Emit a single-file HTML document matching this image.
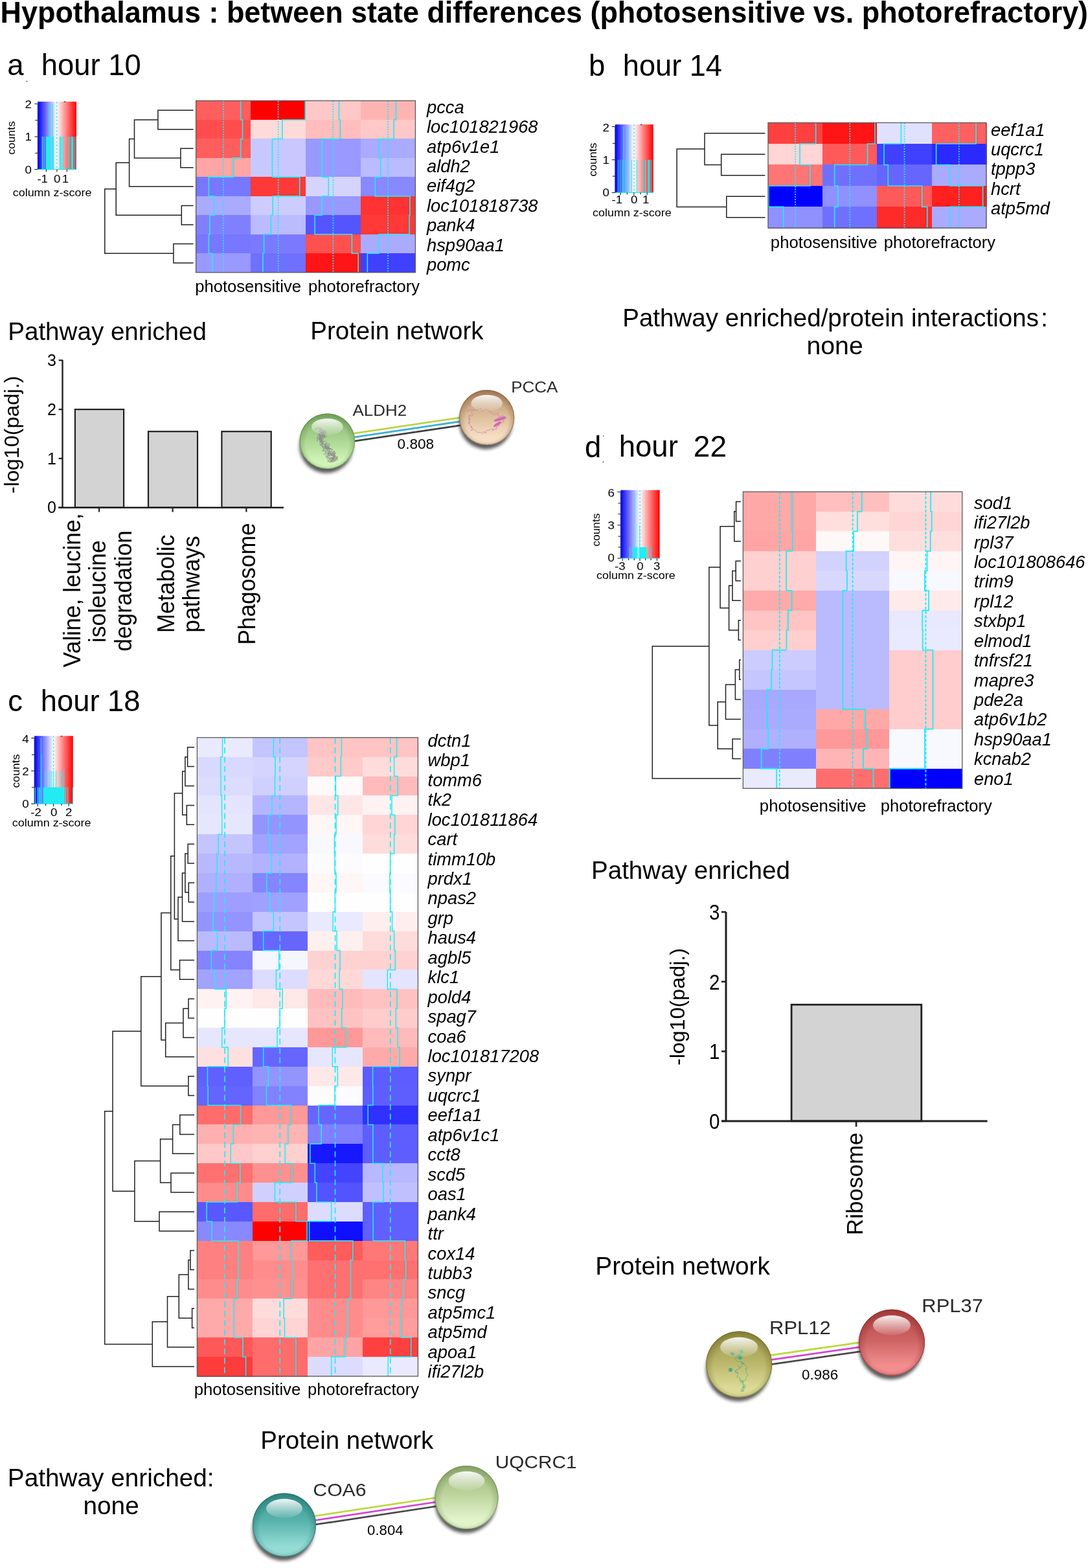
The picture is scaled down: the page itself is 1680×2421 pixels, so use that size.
<!DOCTYPE html>
<html><head><meta charset="utf-8"><title>Hypothalamus : between state differences</title>
<style>
html,body{margin:0;padding:0;background:#fff;}
body{width:1680px;height:2421px;overflow:hidden;}
svg{display:block;font-family:"Liberation Sans", Arial, Helvetica, sans-serif;}
</style></head><body>
<svg width="1680" height="2421" viewBox="0 0 1680 2421">
<defs><linearGradient id="grad_a" x1="0" x2="1" y1="0" y2="0"><stop offset="0" stop-color="#0000ff"/><stop offset="0.49" stop-color="#ffffff"/><stop offset="1" stop-color="#ff0000"/></linearGradient>
<filter id="blur2" x="-30%" y="-30%" width="160%" height="160%"><feGaussianBlur stdDeviation="2.8"/></filter>
<linearGradient id="sh_common" x1="0" x2="0" y1="0" y2="1"><stop offset="0" stop-color="#ffffff" stop-opacity="0.92"/><stop offset="1" stop-color="#ffffff" stop-opacity="0.08"/></linearGradient>
<linearGradient id="sg_aldh2" x1="0" x2="0" y1="0" y2="1"><stop offset="0" stop-color="#86b46e"/><stop offset="0.45" stop-color="#a8d490"/><stop offset="0.85" stop-color="#d0f5b8"/><stop offset="1" stop-color="#d0f5b8"/></linearGradient>
<radialGradient id="sr_aldh2" cx="0.5" cy="0.55" r="0.55"><stop offset="0.7" stop-color="#5c8a44" stop-opacity="0"/><stop offset="1" stop-color="#5c8a44" stop-opacity="0.55"/></radialGradient>
<linearGradient id="sg_pcca" x1="0" x2="0" y1="0" y2="1"><stop offset="0" stop-color="#b48e68"/><stop offset="0.45" stop-color="#dcbc98"/><stop offset="0.85" stop-color="#f6dec4"/><stop offset="1" stop-color="#f6dec4"/></linearGradient>
<radialGradient id="sr_pcca" cx="0.5" cy="0.55" r="0.55"><stop offset="0.7" stop-color="#86603e" stop-opacity="0"/><stop offset="1" stop-color="#86603e" stop-opacity="0.55"/></radialGradient>
<linearGradient id="grad_b" x1="0" x2="1" y1="0" y2="0"><stop offset="0" stop-color="#0000ff"/><stop offset="0.49" stop-color="#ffffff"/><stop offset="1" stop-color="#ff0000"/></linearGradient>
<linearGradient id="grad_d" x1="0" x2="1" y1="0" y2="0"><stop offset="0" stop-color="#0000ff"/><stop offset="0.49" stop-color="#ffffff"/><stop offset="1" stop-color="#ff0000"/></linearGradient>
<linearGradient id="sg_rpl12" x1="0" x2="0" y1="0" y2="1"><stop offset="0" stop-color="#9e9846"/><stop offset="0.45" stop-color="#b8b468"/><stop offset="0.85" stop-color="#dcda96"/><stop offset="1" stop-color="#dcda96"/></linearGradient>
<radialGradient id="sr_rpl12" cx="0.5" cy="0.55" r="0.55"><stop offset="0.7" stop-color="#6a6626" stop-opacity="0"/><stop offset="1" stop-color="#6a6626" stop-opacity="0.55"/></radialGradient>
<linearGradient id="sg_rpl37" x1="0" x2="0" y1="0" y2="1"><stop offset="0" stop-color="#b84646"/><stop offset="0.45" stop-color="#cc6262"/><stop offset="0.85" stop-color="#f28e8e"/><stop offset="1" stop-color="#f28e8e"/></linearGradient>
<radialGradient id="sr_rpl37" cx="0.5" cy="0.55" r="0.55"><stop offset="0.7" stop-color="#8a2a2a" stop-opacity="0"/><stop offset="1" stop-color="#8a2a2a" stop-opacity="0.55"/></radialGradient>
<linearGradient id="grad_c" x1="0" x2="1" y1="0" y2="0"><stop offset="0" stop-color="#0000ff"/><stop offset="0.49" stop-color="#ffffff"/><stop offset="1" stop-color="#ff0000"/></linearGradient>
<linearGradient id="sg_coa6" x1="0" x2="0" y1="0" y2="1"><stop offset="0" stop-color="#3a9690"/><stop offset="0.45" stop-color="#5ab4ae"/><stop offset="0.85" stop-color="#96dcd6"/><stop offset="1" stop-color="#96dcd6"/></linearGradient>
<radialGradient id="sr_coa6" cx="0.5" cy="0.55" r="0.55"><stop offset="0.7" stop-color="#1f6e68" stop-opacity="0"/><stop offset="1" stop-color="#1f6e68" stop-opacity="0.55"/></radialGradient>
<linearGradient id="sg_uqcrc1" x1="0" x2="0" y1="0" y2="1"><stop offset="0" stop-color="#9cb87c"/><stop offset="0.45" stop-color="#bcd49c"/><stop offset="0.85" stop-color="#e2f4cc"/><stop offset="1" stop-color="#e2f4cc"/></linearGradient>
<radialGradient id="sr_uqcrc1" cx="0.5" cy="0.55" r="0.55"><stop offset="0.7" stop-color="#6e8c4e" stop-opacity="0"/><stop offset="1" stop-color="#6e8c4e" stop-opacity="0.55"/></radialGradient></defs>
<rect x="0" y="0" width="1680" height="2421" fill="#ffffff"/>
<text x="0.58" y="34.8" font-size="45.5" font-weight="bold" textLength="1679.48" lengthAdjust="spacingAndGlyphs">Hypothalamus : between state differences (photosensitive vs. photorefractory)</text>
<text x="11.15" y="115.9" font-size="45.5">a</text>
<text x="63.72" y="115.9" font-size="45.5" textLength="153.97" lengthAdjust="spacingAndGlyphs">hour 10</text>
<g shape-rendering="crispEdges"><rect x="302.6" y="155.5" width="85.3" height="30.07" fill="#ff5e5e"/><rect x="387.3" y="155.5" width="85.3" height="30.07" fill="#ff0000"/><rect x="472" y="155.5" width="85.3" height="30.07" fill="#ffc8c8"/><rect x="556.7" y="155.5" width="85.3" height="30.07" fill="#ffb4b4"/><rect x="302.6" y="184.97" width="85.3" height="30.07" fill="#ff4d4d"/><rect x="387.3" y="184.97" width="85.3" height="30.07" fill="#ffdada"/><rect x="472" y="184.97" width="85.3" height="30.07" fill="#ffbdbd"/><rect x="556.7" y="184.97" width="85.3" height="30.07" fill="#ffc8c8"/><rect x="302.6" y="214.43" width="85.3" height="30.07" fill="#ff5e5e"/><rect x="387.3" y="214.43" width="85.3" height="30.07" fill="#c8c8ff"/><rect x="472" y="214.43" width="85.3" height="30.07" fill="#9999ff"/><rect x="556.7" y="214.43" width="85.3" height="30.07" fill="#aaaaff"/><rect x="302.6" y="243.9" width="85.3" height="30.07" fill="#ffa5a5"/><rect x="387.3" y="243.9" width="85.3" height="30.07" fill="#c8c8ff"/><rect x="472" y="243.9" width="85.3" height="30.07" fill="#9999ff"/><rect x="556.7" y="243.9" width="85.3" height="30.07" fill="#bbbbff"/><rect x="302.6" y="273.37" width="85.3" height="30.07" fill="#7777ff"/><rect x="387.3" y="273.37" width="85.3" height="30.07" fill="#ff3838"/><rect x="472" y="273.37" width="85.3" height="30.07" fill="#d4d4ff"/><rect x="556.7" y="273.37" width="85.3" height="30.07" fill="#8888ff"/><rect x="302.6" y="302.83" width="85.3" height="30.07" fill="#aaaaff"/><rect x="387.3" y="302.83" width="85.3" height="30.07" fill="#ccccff"/><rect x="472" y="302.83" width="85.3" height="30.07" fill="#9898ff"/><rect x="556.7" y="302.83" width="85.3" height="30.07" fill="#ff3333"/><rect x="302.6" y="332.3" width="85.3" height="30.07" fill="#8080ff"/><rect x="387.3" y="332.3" width="85.3" height="30.07" fill="#bbbbff"/><rect x="472" y="332.3" width="85.3" height="30.07" fill="#5555ff"/><rect x="556.7" y="332.3" width="85.3" height="30.07" fill="#ff3838"/><rect x="302.6" y="361.77" width="85.3" height="30.07" fill="#7777ff"/><rect x="387.3" y="361.77" width="85.3" height="30.07" fill="#7a7aff"/><rect x="472" y="361.77" width="85.3" height="30.07" fill="#ff5050"/><rect x="556.7" y="361.77" width="85.3" height="30.07" fill="#aaaaff"/><rect x="302.6" y="391.23" width="85.3" height="30.07" fill="#9999ff"/><rect x="387.3" y="391.23" width="85.3" height="30.07" fill="#7070ff"/><rect x="472" y="391.23" width="85.3" height="30.07" fill="#ff1515"/><rect x="556.7" y="391.23" width="85.3" height="30.07" fill="#4040ff"/></g>
<line x1="344.95" y1="156.1" x2="344.95" y2="420.7" stroke="#22ecf2" stroke-width="1.8" stroke-dasharray="1.9 2"/>
<path d="M371.69 155.5V184.97H374.51V214.43H371.69V243.9H359.9V273.37H322.36V302.83H330.83V332.3H323.86V361.77H322.36V391.23H328.01V420.7" stroke="#22ecf2" stroke-width="1.6" fill="none"/>
<line x1="429.65" y1="156.1" x2="429.65" y2="420.7" stroke="#22ecf2" stroke-width="1.8" stroke-dasharray="1.9 2"/>
<path d="M471.2 155.5V184.97H435.79V214.43H420.52V243.9H420.52V273.37H462.7V302.83H421.18V332.3H418.36V361.77H407.56V391.23H405.9V420.7" stroke="#22ecf2" stroke-width="1.6" fill="none"/>
<line x1="514.35" y1="156.1" x2="514.35" y2="420.7" stroke="#22ecf2" stroke-width="1.8" stroke-dasharray="1.9 2"/>
<path d="M523.48 155.5V184.97H525.31V214.43H497.41V243.9H497.41V273.37H507.21V302.83H497.24V332.3H486.12V361.77H543.41V391.23H553.21V420.7" stroke="#22ecf2" stroke-width="1.6" fill="none"/>
<line x1="599.05" y1="156.1" x2="599.05" y2="420.7" stroke="#22ecf2" stroke-width="1.8" stroke-dasharray="1.9 2"/>
<path d="M611.51 155.5V184.97H608.18V214.43H584.93V243.9H587.76V273.37H579.29V302.83H632.93V332.3H632.1V361.77H584.93V391.23H567.33V420.7" stroke="#22ecf2" stroke-width="1.6" fill="none"/>
<rect x="302.6" y="155.5" width="338.8" height="265.2" fill="none" stroke="#5a5a5a" stroke-width="1.3"/>
<path d="M298.6 170.23H243.9V199.7H298.6" stroke="#231f20" stroke-width="1.5" fill="none"/>
<path d="M298.6 229.17H278.9V258.63H298.6" stroke="#231f20" stroke-width="1.5" fill="none"/>
<path d="M243.9 184.97H207.5V243.9H278.9" stroke="#231f20" stroke-width="1.5" fill="none"/>
<path d="M207.5 214.43H199.6V288.1H298.6" stroke="#231f20" stroke-width="1.5" fill="none"/>
<path d="M298.6 317.57H280.3V347.03H298.6" stroke="#231f20" stroke-width="1.5" fill="none"/>
<path d="M199.6 251.27H179.2V332.3H280.3" stroke="#231f20" stroke-width="1.5" fill="none"/>
<path d="M298.6 376.5H267.9V405.97H298.6" stroke="#231f20" stroke-width="1.5" fill="none"/>
<path d="M179.2 291.78H161.8V391.23H267.9" stroke="#231f20" stroke-width="1.5" fill="none"/>
<text x="659" y="174.8" font-size="27.3" font-style="italic">pcca</text>
<text x="659" y="205.2" font-size="27.3" font-style="italic">loc101821968</text>
<text x="659" y="235.6" font-size="27.3" font-style="italic">atp6v1e1</text>
<text x="659" y="266" font-size="27.3" font-style="italic">aldh2</text>
<text x="659" y="296.4" font-size="27.3" font-style="italic">eif4g2</text>
<text x="659" y="326.8" font-size="27.3" font-style="italic">loc101818738</text>
<text x="659" y="357.2" font-size="27.3" font-style="italic">pank4</text>
<text x="659" y="387.6" font-size="27.3" font-style="italic">hsp90aa1</text>
<text x="659" y="418" font-size="27.3" font-style="italic">pomc</text>
<text x="301.24" y="450.9" font-size="25.7" textLength="163.7" lengthAdjust="spacingAndGlyphs">photosensitive</text>
<text x="476.04" y="450.9" font-size="25.7" textLength="172.11" lengthAdjust="spacingAndGlyphs">photorefractory</text>
<rect x="58.3" y="156.9" width="59.7" height="104.7" fill="url(#grad_a)"/>
<line x1="65.5" y1="211" x2="65.5" y2="261.6" stroke="#22ecf2" stroke-width="1.4"/>
<line x1="68" y1="211" x2="68" y2="261.6" stroke="#22ecf2" stroke-width="1"/>
<rect x="71" y="211" width="6.5" height="50.6" fill="#22ecf2"/>
<line x1="76.2" y1="160.3" x2="76.2" y2="261.6" stroke="#22ecf2" stroke-width="1.2"/>
<line x1="81" y1="160.3" x2="81" y2="261.6" stroke="#22ecf2" stroke-width="1.4"/>
<line x1="79" y1="211" x2="79" y2="261.6" stroke="#22ecf2" stroke-width="1"/>
<rect x="80.5" y="211" width="2.5" height="50.6" fill="#22ecf2"/>
<line x1="91.8" y1="211" x2="91.8" y2="261.6" stroke="#22ecf2" stroke-width="1"/>
<rect x="93" y="211" width="2" height="50.6" fill="#22ecf2"/>
<line x1="97.25" y1="211" x2="97.25" y2="261.6" stroke="#22ecf2" stroke-width="1.5"/>
<line x1="105.5" y1="211" x2="105.5" y2="261.6" stroke="#22ecf2" stroke-width="1"/>
<line x1="108" y1="211" x2="108" y2="261.6" stroke="#22ecf2" stroke-width="1"/>
<rect x="110" y="211" width="3" height="50.6" fill="#22ecf2"/>
<line x1="114.5" y1="211" x2="114.5" y2="261.6" stroke="#22ecf2" stroke-width="1"/>
<line x1="117" y1="211" x2="117" y2="261.6" stroke="#22ecf2" stroke-width="1"/>
<line x1="87.8" y1="156.9" x2="87.8" y2="261.6" stroke="#22ecf2" stroke-width="1.3" stroke-dasharray="3 2.5"/>
<line x1="58.3" y1="261.6" x2="118" y2="261.6" stroke="#22ecf2" stroke-width="1.2"/>
<line x1="53.3" y1="160.3" x2="58.3" y2="160.3" stroke="#231f20" stroke-width="1.1"/>
<line x1="54.3" y1="185.7" x2="58.3" y2="185.7" stroke="#231f20" stroke-width="1.1"/>
<line x1="53.3" y1="211" x2="58.3" y2="211" stroke="#231f20" stroke-width="1.1"/>
<line x1="54.3" y1="236.4" x2="58.3" y2="236.4" stroke="#231f20" stroke-width="1.1"/>
<line x1="53.3" y1="261.6" x2="58.3" y2="261.6" stroke="#231f20" stroke-width="1.1"/>
<line x1="58.3" y1="160.3" x2="58.3" y2="261.6" stroke="#231f20" stroke-width="0.8"/>
<text x="0" y="0" font-size="17" transform="translate(48.9 167.45) scale(1.1 1)" text-anchor="end">2</text>
<text x="0" y="0" font-size="17" transform="translate(48.9 216.95) scale(1.1 1)" text-anchor="end">1</text>
<text x="0" y="0" font-size="17" transform="translate(48.9 267.55) scale(1.1 1)" text-anchor="end">0</text>
<line x1="71.4" y1="261.6" x2="71.4" y2="265.6" stroke="#231f20" stroke-width="1.1"/>
<line x1="87.9" y1="261.6" x2="87.9" y2="265.6" stroke="#231f20" stroke-width="1.1"/>
<line x1="103.4" y1="261.6" x2="103.4" y2="265.6" stroke="#231f20" stroke-width="1.1"/>
<text x="0" y="0" font-size="17" transform="translate(65.7 282) scale(1.1 1)" text-anchor="middle">-1</text>
<text x="0" y="0" font-size="17" transform="translate(88.1 282) scale(1.1 1)" text-anchor="middle">0</text>
<text x="0" y="0" font-size="17" transform="translate(101 282) scale(1.1 1)" text-anchor="middle">1</text>
<text x="23.5" y="212.95" font-size="17" text-anchor="middle" textLength="51.7" lengthAdjust="spacingAndGlyphs" transform="rotate(-90 23.5 212.95)">counts</text>
<text x="19.7" y="302.7" font-size="17" textLength="121.7" lengthAdjust="spacingAndGlyphs">column z-score</text>
<text x="12.21" y="525.2" font-size="38.6" textLength="306.67" lengthAdjust="spacingAndGlyphs">Pathway enriched</text>
<text x="479.32" y="523.5" font-size="38.6" textLength="267.2" lengthAdjust="spacingAndGlyphs">Protein network</text>
<line x1="96.5" y1="555.7" x2="96.5" y2="784.8" stroke="#231f20" stroke-width="2.4"/>
<line x1="90.6" y1="783.7" x2="96.5" y2="783.7" stroke="#231f20" stroke-width="2.2"/>
<text x="86.8" y="792.4" font-size="25" text-anchor="end">0</text>
<line x1="90.6" y1="707.9" x2="96.5" y2="707.9" stroke="#231f20" stroke-width="2.2"/>
<text x="86.8" y="716.6" font-size="25" text-anchor="end">1</text>
<line x1="90.6" y1="632.1" x2="96.5" y2="632.1" stroke="#231f20" stroke-width="2.2"/>
<text x="86.8" y="640.8" font-size="25" text-anchor="end">2</text>
<line x1="90.6" y1="556.3" x2="96.5" y2="556.3" stroke="#231f20" stroke-width="2.2"/>
<text x="86.8" y="565" font-size="25" text-anchor="end">3</text>
<rect x="115.9" y="632.1" width="75.2" height="151.6" fill="#d3d3d3" stroke="#231f20" stroke-width="2.2"/>
<rect x="229" y="666.21" width="76" height="117.49" fill="#d3d3d3" stroke="#231f20" stroke-width="2.2"/>
<rect x="342.4" y="666.21" width="76.3" height="117.49" fill="#d3d3d3" stroke="#231f20" stroke-width="2.2"/>
<line x1="90.2" y1="783.7" x2="438" y2="783.7" stroke="#231f20" stroke-width="2.4"/>
<line x1="153.1" y1="783.7" x2="153.1" y2="790.5" stroke="#231f20" stroke-width="2.2"/>
<line x1="266.6" y1="783.7" x2="266.6" y2="790.5" stroke="#231f20" stroke-width="2.2"/>
<line x1="380.4" y1="783.7" x2="380.4" y2="790.5" stroke="#231f20" stroke-width="2.2"/>
<text x="28.8" y="762.06" font-size="32" textLength="181.54" lengthAdjust="spacingAndGlyphs" transform="rotate(-90 28.8 762.06)">-log10(padj.)</text>
<text x="124.1" y="1030.38" font-size="36" textLength="238.01" lengthAdjust="spacingAndGlyphs" transform="rotate(-90 124.1 1030.38)">Valine, leucine,</text>
<text x="163.4" y="992.21" font-size="36" textLength="158.1" lengthAdjust="spacingAndGlyphs" transform="rotate(-90 163.4 992.21)">isoleucine</text>
<text x="202.7" y="1005.81" font-size="36" textLength="186.8" lengthAdjust="spacingAndGlyphs" transform="rotate(-90 202.7 1005.81)">degradation</text>
<text x="268.9" y="977.23" font-size="36" textLength="151.62" lengthAdjust="spacingAndGlyphs" transform="rotate(-90 268.9 977.23)">Metabolic</text>
<text x="308.2" y="976.7" font-size="36" textLength="149.32" lengthAdjust="spacingAndGlyphs" transform="rotate(-90 308.2 976.7)">pathways</text>
<text x="394" y="995.83" font-size="36" textLength="188.59" lengthAdjust="spacingAndGlyphs" transform="rotate(-90 394 995.83)">Phagosome</text>
<line x1="504.42" y1="675.37" x2="750.82" y2="638.77" stroke="#b8d43c" stroke-width="2.7"/>
<line x1="505.3" y1="681.3" x2="751.7" y2="644.7" stroke="#3ab0d8" stroke-width="2.7"/>
<line x1="506.18" y1="687.23" x2="752.58" y2="650.63" stroke="#404040" stroke-width="2.7"/>
<circle cx="503.8" cy="688.8" r="41.52" fill="#1a1a1a" opacity="0.72" filter="url(#blur2)"/>
<circle cx="505.3" cy="681.3" r="42.8" fill="url(#sg_aldh2)"/>
<circle cx="505.3" cy="681.3" r="42.8" fill="url(#sr_aldh2)"/>
<circle cx="505.3" cy="681.3" r="42.2" fill="none" stroke="#5c8a44" stroke-width="1.2" opacity="0.6"/>
<path d="M490 662L487.43 662.43L488.13 663.29L491.02 658.41L486.06 664.65L487.16 660.75L494.88 662.04L495.82 662.62L494.34 659.75L494.03 666.05L493.02 666.84L494.34 660.59L495.76 664.01L491.89 659.69L496.43 662.87L496.53 667.94L496.69 670.01L493.79 669.6L493.58 670.94L497.95 663.26L492.15 662.27L498.72 664.27L497.54 663.68L496.2 664.47L494.44 666.81L496.37 670.77L498.08 672.35L500.48 673.57L499.56 665.96L501.32 671.67L502.45 669.65L501.1 665.68L502.02 668.18L497.12 664.07L501.4 672.06L495.36 672.74L496.87 666.71L496.36 671.1L502.06 665.46L501.41 663.92L502.41 666.4L504.44 673.66L501.27 676.22L498.29 668.17L500.14 665.52L496.64 668.62L499.53 667.3L494.73 674.08L495.84 677.22L501.78 672.68L499.19 672.92L500.1 673.95L499.44 674.7L502.87 674.03L498.81 676.13L495.58 672.87L501.76 674.25L499.31 669.89L497.16 674.36L492.53 676.26L497.04 671.6L498.24 674.39L499 674.32L499.4 678.29L492.7 673.05L496.99 680.54L494.01 678.03L496.36 676.15L494.72 675.72L494.17 678.58L493.23 677.51L497.46 673.96L496.64 680.05L493.75 677.06L497.61 676.54L492.63 678.51L496.03 676.05L493.26 677.8L497.34 679.56L498.67 677.66L493.88 682.01L497.79 681.56L492.71 678.33L494.38 678.18L497.8 684.63L492.94 681.22L497.8 683.89L499.46 681.93L493.54 680.96L498.48 680.6L495.79 682.07L495.91 682.57L501.06 680.38L493.85 687.58L500.47 690.31L498.3 690.9L502.69 684.09L502.44 688.21L501.76 686.47L498.11 684.35L496.62 681.17L499.92 682.51L503.29 680.68L505.43 686.63L506.48 690.54L506.77 688.72L498.38 689.97L497.63 686.12L502.43 687.31L501.63 691.86L503.55 687.51L500.81 691.45L502.4 691.99L501.86 686.56L503.7 691.14L500.9 692.41L507.63 693.07L508.9 685.59L507.58 691.86L501.72 688.09L502.32 689.61L504.18 689.68L508.31 685.26L502.58 685.34L501.65 684.96L509.81 692.73L503.65 691.78L504.16 689.84L504.77 692.69L507.36 690.91L504.37 690.24L502.92 692.44L508.39 691.55L503.9 689.49L505.54 693.22L510.15 692.32L511.81 694.6L508.8 693L508.63 695.94L507.95 696.91L508.24 692.98L509.17 696.38L505 694.93L507.33 699.13L513.14 695.61L514.61 698.81L508.92 696.75L505.96 699.72L510.46 701.52L513.19 700.08L513.54 698.81L507.57 698.83L504.92 694.66L511.78 692.62L507.25 692.72L513.72 693.71L507.37 700.67L506.53 702.96L511.8 703.74L516.21 701.63L516.14 695.86L515.92 698.92L515.44 695.98L515.74 703.32L509.19 699.64L512.26 703.58L510.13 698.52L509.67 701.38L514.58 700.16L512.37 699.93L511.64 700.18L508.92 701.16L516.92 700.71L517.22 698.2L516.86 703.39L516.69 702.71L514.88 703.85L518.5 699.46L511.83 704.11L517.98 703.35L515.29 705.2L512.07 701.44L511.34 703.54L512.36 700.81L516.46 707.16L513.92 706.74L514.41 708.17L516.34 702.96L513.43 699.11L515.23 701.59L512.86 702.22L513.73 706.56L512.34 710.1L515.33 707.42L516.21 709.03L520.05 706.9L517.97 707.97L521.13 705.26L520.98 710.04L518.43 704.42L515.49 707.62L518.88 711.05L521.5 705.16L515.64 703.66L513.72 707.69L519.58 710.91L515.28 711.64L514.43 707.64L518.1 703.24L512.83 709.35L513.06 706.61L515.81 709.02L510.88 706.51L513.47 707.35L511.89 708.67L518.57 707.27L516.41 704.3L512.98 708.86L510.22 712.51L517.06 705.96L519.29 706.82L518.16 710.94L513.01 711.48L514.83 713.03L511.44 713.09L517.09 712.41L514.48 706.83L513.15 707.61L514.8 711.14L513.67 707.44L513.97 710.84L509.34 714.5L512.48 708.19L516 706.58L511.03 711.88L512 711.95L512.64 711.12L509.41 708.22L505.91 712.75L511.44 712.51L512.82 710.75L508.42 710.19L512.87 706.29L510.42 706.75L512.1 707.55L508.16 707.88L508.85 711.21L507.03 712.55L503.95 706.92L502.72 703.3L508.84 707.85L504.68 703.56L505.52 707.31L509.51 708.11L508.34 702.06L505.92 700.32L506.28 703.08L503.02 700.41L507.55 697.06L508.94 704.11L510.62 700.86L507.06 701.46L506.61 705.11L506.82 699.18L508.4 698.83L506.17 700.71L499.45 701.32L503.73 698.39L503.48 696.81L499.99 696.63L497.24 695.9L502.2 694.75L502.73 699.06L505.91 691.9L505.71 694.14L498.21 691.85L497.57 688.01L500.2 694.82L498.7 695.9L501.72 688.62L504.05 690.63L505.28 692.03L503.67 688.48L503.7 692.87L504.11 689.02L503.07 688.02L496.26 683.07L493.78 682.81L493.7 685.33L498.82 686.16L497.5 687.19L495.81 685.37L499.59 683.89L494.94 688.01L498.69 683.72L496.25 683.7L497.59 680.39L492.03 678.93L497.88 677.54L496.32 677.31L493.26 676.69L494.1 676.16L490.53 675.11L490.69 678.21L489.54 674.24L492.86 676.51L496.22 673.38L494.14 675.51L489.69 681.41L490.1 674.32L492.58 672.57L494.64 673.51L490.23 670.59L494.68 671.58L496.47 673.43L498.29 672.05L492 670.99L495.5 673.91L491.81 669.22L493.87 676.08L493.47 668.36" fill="none" stroke="#8c8c8c" stroke-width="0.75" stroke-linejoin="round" opacity="0.8"/>
<ellipse cx="505.3" cy="659.04" rx="24.4" ry="12.84" fill="url(#sh_common)"/>
<circle cx="750.2" cy="652.2" r="41.32" fill="#1a1a1a" opacity="0.72" filter="url(#blur2)"/>
<circle cx="751.7" cy="644.7" r="42.6" fill="url(#sg_pcca)"/>
<circle cx="751.7" cy="644.7" r="42.6" fill="url(#sr_pcca)"/>
<circle cx="751.7" cy="644.7" r="42" fill="none" stroke="#86603e" stroke-width="1.2" opacity="0.6"/>
<path d="M722 636L721.14 634.29L723.69 633.05L725.11 633.76L724.4 634.33L725.3 633.79L726.94 631.6L730.38 634.21L731.15 631.68L735.06 634.13L737.35 632.29L741.38 630.2L743.4 630.93L741.89 630.48L743.62 633.94L744.9 634.01L748.92 633.17L751.06 631.58L750.55 632.26L754.65 634.07L755.3 635.9L757.38 635.57L760.89 637.95L760.46 638.57L762.92 640.75L765.87 639.04L769.19 638.09L768.65 641.29L768.39 641.28L768.97 642.5L773.91 642.74L777.15 641.89L778.45 643.36L779.49 643.47L781.18 646.68L779.38 647.31L776.29 648.72L777.72 651.61L778.49 650.04L776.06 652.49L773.03 653.25L772.32 652.83L770.67 656.74L769.31 656.05L768.98 659.6L766.14 659.28L766.38 662.01L766.56 663.42L762.75 662.34L760.8 665.01L761.93 662.75L757.23 662.81L754.89 664.42L754.72 664.16L750.59 665.19L749.93 666.57L751.38 667.94L748.46 668.34L747.16 665.85L746.65 668.49L745.17 669.2L741.15 667.28L737.32 667.69L734.75 664.86L733.49 664.3L732.54 663.42L729.57 663.28L728.66 663.42L727.49 665.09L729.51 661.17L727.82 660.11L727.34 657.82L729.06 660.54L727.18 657.99L724.29 654.46L724.51 653.16L726.79 651.22L723.35 653.47L724.62 649.17L724.9 646.25L724.74 649L726.16 647.41L723.52 644.31L722.79 644.67L724.88 644.12L725.03 640.54L727.96 642.51L729.56 641.53L730.39 640.22L728.26 638.04L728.77 634.31" fill="none" stroke="#c868b0" stroke-width="0.7" stroke-linejoin="round" opacity="0.8"/><ellipse cx="772" cy="647" rx="10" ry="2.4" fill="#d058b8" transform="rotate(-18 772 647)" opacity="0.85"/><ellipse cx="768" cy="655" rx="7" ry="2.2" fill="#d058b8" transform="rotate(-32 768 655)" opacity="0.85"/>
<ellipse cx="751.7" cy="622.55" rx="24.28" ry="12.78" fill="url(#sh_common)"/>
<text x="544.57" y="641.8" font-size="24" fill="#2a2a2a" textLength="83.49" lengthAdjust="spacingAndGlyphs">ALDH2</text>
<text x="789.22" y="605.5" font-size="24" fill="#2a2a2a" textLength="72.17" lengthAdjust="spacingAndGlyphs">PCCA</text>
<text x="613.6" y="692.6" font-size="21.5" textLength="56.56" lengthAdjust="spacingAndGlyphs">0.808</text>
<text x="909.04" y="116.9" font-size="45.5">b</text>
<text x="961.84" y="116.9" font-size="45.5" textLength="153.09" lengthAdjust="spacingAndGlyphs">hour 14</text>
<g shape-rendering="crispEdges"><rect x="1186" y="189.5" width="84.83" height="33.08" fill="#ff4040"/><rect x="1270.22" y="189.5" width="84.83" height="33.08" fill="#ff1515"/><rect x="1354.45" y="189.5" width="84.83" height="33.08" fill="#e0e0ff"/><rect x="1438.68" y="189.5" width="84.83" height="33.08" fill="#ff6060"/><rect x="1186" y="221.98" width="84.83" height="33.08" fill="#ffd5d5"/><rect x="1270.22" y="221.98" width="84.83" height="33.08" fill="#ff5a5a"/><rect x="1354.45" y="221.98" width="84.83" height="33.08" fill="#4040ff"/><rect x="1438.68" y="221.98" width="84.83" height="33.08" fill="#2a2aff"/><rect x="1186" y="254.46" width="84.83" height="33.08" fill="#ff7575"/><rect x="1270.22" y="254.46" width="84.83" height="33.08" fill="#7070ff"/><rect x="1354.45" y="254.46" width="84.83" height="33.08" fill="#6666ff"/><rect x="1438.68" y="254.46" width="84.83" height="33.08" fill="#aaaaff"/><rect x="1186" y="286.94" width="84.83" height="33.08" fill="#0000ff"/><rect x="1270.22" y="286.94" width="84.83" height="33.08" fill="#9090ff"/><rect x="1354.45" y="286.94" width="84.83" height="33.08" fill="#ff5a5a"/><rect x="1438.68" y="286.94" width="84.83" height="33.08" fill="#ff2020"/><rect x="1186" y="319.42" width="84.83" height="33.08" fill="#9090ff"/><rect x="1270.22" y="319.42" width="84.83" height="33.08" fill="#7070ff"/><rect x="1354.45" y="319.42" width="84.83" height="33.08" fill="#ff2a2a"/><rect x="1438.68" y="319.42" width="84.83" height="33.08" fill="#aaaaff"/></g>
<line x1="1228.11" y1="190.1" x2="1228.11" y2="351.9" stroke="#22ecf2" stroke-width="1.8" stroke-dasharray="1.9 2"/>
<path d="M1259.66 189.5V221.98H1235.05V254.46H1250.9V286.94H1186.8V319.42H1209.78V351.9" stroke="#22ecf2" stroke-width="1.6" fill="none"/>
<line x1="1312.34" y1="190.1" x2="1312.34" y2="351.9" stroke="#22ecf2" stroke-width="1.8" stroke-dasharray="1.9 2"/>
<path d="M1350.98 189.5V221.98H1339.59V254.46H1288.72V286.94H1294.01V319.42H1288.72V351.9" stroke="#22ecf2" stroke-width="1.6" fill="none"/>
<line x1="1396.56" y1="190.1" x2="1396.56" y2="351.9" stroke="#22ecf2" stroke-width="1.8" stroke-dasharray="1.9 2"/>
<path d="M1391.44 189.5V221.98H1365.02V254.46H1371.3V286.94H1423.81V319.42H1431.74V351.9" stroke="#22ecf2" stroke-width="1.6" fill="none"/>
<line x1="1480.79" y1="190.1" x2="1480.79" y2="351.9" stroke="#22ecf2" stroke-width="1.8" stroke-dasharray="1.9 2"/>
<path d="M1507.05 189.5V221.98H1445.61V254.46H1466.75V286.94H1517.62V319.42H1466.75V351.9" stroke="#22ecf2" stroke-width="1.6" fill="none"/>
<rect x="1186" y="189.5" width="336.9" height="162.4" fill="none" stroke="#5a5a5a" stroke-width="1.3"/>
<path d="M1181.4 238.22H1113.7V270.7H1181.4" stroke="#231f20" stroke-width="1.5" fill="none"/>
<path d="M1181.4 205.74H1088V254.46H1113.7" stroke="#231f20" stroke-width="1.5" fill="none"/>
<path d="M1181.4 303.18H1121.8V335.66H1181.4" stroke="#231f20" stroke-width="1.5" fill="none"/>
<path d="M1088 230.1H1045.1V319.42H1121.8" stroke="#231f20" stroke-width="1.5" fill="none"/>
<text x="1530" y="209.8" font-size="27.3" font-style="italic">eef1a1</text>
<text x="1530" y="240.1" font-size="27.3" font-style="italic">uqcrc1</text>
<text x="1530" y="270.4" font-size="27.3" font-style="italic">tppp3</text>
<text x="1530" y="300.7" font-size="27.3" font-style="italic">hcrt</text>
<text x="1530" y="331" font-size="27.3" font-style="italic">atp5md</text>
<text x="1189.83" y="382.6" font-size="25.7" textLength="164.72" lengthAdjust="spacingAndGlyphs">photosensitive</text>
<text x="1364.73" y="382.6" font-size="25.7" textLength="172.41" lengthAdjust="spacingAndGlyphs">photorefractory</text>
<rect x="949.8" y="192.2" width="59" height="105.1" fill="url(#grad_b)"/>
<line x1="954.5" y1="246.7" x2="954.5" y2="297.3" stroke="#22ecf2" stroke-width="1"/>
<line x1="957.5" y1="246.7" x2="957.5" y2="297.3" stroke="#22ecf2" stroke-width="1"/>
<line x1="960.9" y1="246.7" x2="960.9" y2="297.3" stroke="#22ecf2" stroke-width="1"/>
<line x1="962.9" y1="195.5" x2="962.9" y2="297.3" stroke="#22ecf2" stroke-width="1.2"/>
<line x1="965.9" y1="246.7" x2="965.9" y2="297.3" stroke="#22ecf2" stroke-width="1.2"/>
<line x1="969.65" y1="195.5" x2="969.65" y2="297.3" stroke="#22ecf2" stroke-width="1.3"/>
<line x1="975.3" y1="246.7" x2="975.3" y2="297.3" stroke="#22ecf2" stroke-width="1"/>
<line x1="983.6" y1="246.7" x2="983.6" y2="297.3" stroke="#22ecf2" stroke-width="1"/>
<line x1="992.6" y1="246.7" x2="992.6" y2="297.3" stroke="#22ecf2" stroke-width="1"/>
<line x1="996.9" y1="246.7" x2="996.9" y2="297.3" stroke="#22ecf2" stroke-width="1.4"/>
<rect x="1000.3" y="246.7" width="2.3" height="50.6" fill="#22ecf2"/>
<line x1="1003.5" y1="246.7" x2="1003.5" y2="297.3" stroke="#22ecf2" stroke-width="1"/>
<line x1="1005.8" y1="246.7" x2="1005.8" y2="297.3" stroke="#22ecf2" stroke-width="1"/>
<line x1="979" y1="192.2" x2="979" y2="297.3" stroke="#22ecf2" stroke-width="1.3" stroke-dasharray="3 2.5"/>
<line x1="949.8" y1="297.3" x2="1008.8" y2="297.3" stroke="#22ecf2" stroke-width="1.2"/>
<line x1="944.8" y1="195.5" x2="949.8" y2="195.5" stroke="#231f20" stroke-width="1.1"/>
<line x1="945.8" y1="221.4" x2="949.8" y2="221.4" stroke="#231f20" stroke-width="1.1"/>
<line x1="944.8" y1="246.7" x2="949.8" y2="246.7" stroke="#231f20" stroke-width="1.1"/>
<line x1="945.8" y1="272.1" x2="949.8" y2="272.1" stroke="#231f20" stroke-width="1.1"/>
<line x1="944.8" y1="297.5" x2="949.8" y2="297.5" stroke="#231f20" stroke-width="1.1"/>
<line x1="949.8" y1="195.5" x2="949.8" y2="297.5" stroke="#231f20" stroke-width="0.8"/>
<text x="0" y="0" font-size="17" transform="translate(940.9 203.45) scale(1.1 1)" text-anchor="end">2</text>
<text x="0" y="0" font-size="17" transform="translate(940.9 252.65) scale(1.1 1)" text-anchor="end">1</text>
<text x="0" y="0" font-size="17" transform="translate(940.9 303.45) scale(1.1 1)" text-anchor="end">0</text>
<line x1="958.3" y1="297.3" x2="958.3" y2="301.3" stroke="#231f20" stroke-width="1.1"/>
<line x1="968.4" y1="297.3" x2="968.4" y2="300.3" stroke="#231f20" stroke-width="1.1"/>
<line x1="978.9" y1="297.3" x2="978.9" y2="301.3" stroke="#231f20" stroke-width="1.1"/>
<line x1="989.1" y1="297.3" x2="989.1" y2="300.3" stroke="#231f20" stroke-width="1.1"/>
<line x1="999.2" y1="297.3" x2="999.2" y2="301.3" stroke="#231f20" stroke-width="1.1"/>
<text x="0" y="0" font-size="17" transform="translate(952.8 314.4) scale(1.1 1)" text-anchor="middle">-1</text>
<text x="0" y="0" font-size="17" transform="translate(979.2 314.4) scale(1.1 1)" text-anchor="middle">0</text>
<text x="0" y="0" font-size="17" transform="translate(997.3 314.4) scale(1.1 1)" text-anchor="middle">1</text>
<text x="921.1" y="246.5" font-size="17" text-anchor="middle" textLength="52.2" lengthAdjust="spacingAndGlyphs" transform="rotate(-90 921.1 246.5)">counts</text>
<text x="915" y="334.1" font-size="17" textLength="121.7" lengthAdjust="spacingAndGlyphs">column z-score</text>
<text x="961.22" y="503.9" font-size="38.6" textLength="642.8" lengthAdjust="spacingAndGlyphs">Pathway enriched/protein interactions</text>
<text x="1607.23" y="503.9" font-size="38.6">:</text>
<text x="1245.45" y="546.6" font-size="38.6" textLength="87.3" lengthAdjust="spacingAndGlyphs">none</text>
<text x="902.98" y="705.6" font-size="45.5">d</text>
<text x="955.72" y="705.4" font-size="45.5">hour</text>
<text x="1070.89" y="705.4" font-size="45.5" textLength="51.32" lengthAdjust="spacingAndGlyphs">22</text>
<g shape-rendering="crispEdges"><rect x="1147.4" y="759.3" width="113.4" height="31.13" fill="#ffa8a8"/><rect x="1260.2" y="759.3" width="113.4" height="31.13" fill="#ffbfbf"/><rect x="1373" y="759.3" width="113.4" height="31.13" fill="#ffdcdc"/><rect x="1147.4" y="789.83" width="113.4" height="31.13" fill="#ffa8a8"/><rect x="1260.2" y="789.83" width="113.4" height="31.13" fill="#ffdede"/><rect x="1373" y="789.83" width="113.4" height="31.13" fill="#ffd5d5"/><rect x="1147.4" y="820.37" width="113.4" height="31.13" fill="#ffa5a5"/><rect x="1260.2" y="820.37" width="113.4" height="31.13" fill="#fff8f8"/><rect x="1373" y="820.37" width="113.4" height="31.13" fill="#ffdede"/><rect x="1147.4" y="850.9" width="113.4" height="31.13" fill="#ffd0d0"/><rect x="1260.2" y="850.9" width="113.4" height="31.13" fill="#d2d2ff"/><rect x="1373" y="850.9" width="113.4" height="31.13" fill="#fff5f5"/><rect x="1147.4" y="881.43" width="113.4" height="31.13" fill="#ffd0d0"/><rect x="1260.2" y="881.43" width="113.4" height="31.13" fill="#d8d8ff"/><rect x="1373" y="881.43" width="113.4" height="31.13" fill="#f8f8ff"/><rect x="1147.4" y="911.97" width="113.4" height="31.13" fill="#ffaaaa"/><rect x="1260.2" y="911.97" width="113.4" height="31.13" fill="#babaff"/><rect x="1373" y="911.97" width="113.4" height="31.13" fill="#ffeaea"/><rect x="1147.4" y="942.5" width="113.4" height="31.13" fill="#ffc4c4"/><rect x="1260.2" y="942.5" width="113.4" height="31.13" fill="#babaff"/><rect x="1373" y="942.5" width="113.4" height="31.13" fill="#e8e8ff"/><rect x="1147.4" y="973.03" width="113.4" height="31.13" fill="#ffcfcf"/><rect x="1260.2" y="973.03" width="113.4" height="31.13" fill="#babaff"/><rect x="1373" y="973.03" width="113.4" height="31.13" fill="#eaeaff"/><rect x="1147.4" y="1003.57" width="113.4" height="31.13" fill="#ccccff"/><rect x="1260.2" y="1003.57" width="113.4" height="31.13" fill="#babaff"/><rect x="1373" y="1003.57" width="113.4" height="31.13" fill="#ffcdcd"/><rect x="1147.4" y="1034.1" width="113.4" height="31.13" fill="#c6c6ff"/><rect x="1260.2" y="1034.1" width="113.4" height="31.13" fill="#babaff"/><rect x="1373" y="1034.1" width="113.4" height="31.13" fill="#ffcdcd"/><rect x="1147.4" y="1064.63" width="113.4" height="31.13" fill="#a8a8ff"/><rect x="1260.2" y="1064.63" width="113.4" height="31.13" fill="#babaff"/><rect x="1373" y="1064.63" width="113.4" height="31.13" fill="#ffcdcd"/><rect x="1147.4" y="1095.17" width="113.4" height="31.13" fill="#aaaaff"/><rect x="1260.2" y="1095.17" width="113.4" height="31.13" fill="#ffa8a8"/><rect x="1373" y="1095.17" width="113.4" height="31.13" fill="#ffcdcd"/><rect x="1147.4" y="1125.7" width="113.4" height="31.13" fill="#b0b0ff"/><rect x="1260.2" y="1125.7" width="113.4" height="31.13" fill="#ff9898"/><rect x="1373" y="1125.7" width="113.4" height="31.13" fill="#f8f8ff"/><rect x="1147.4" y="1156.23" width="113.4" height="31.13" fill="#8080ff"/><rect x="1260.2" y="1156.23" width="113.4" height="31.13" fill="#ffb5b5"/><rect x="1373" y="1156.23" width="113.4" height="31.13" fill="#f8f8ff"/><rect x="1147.4" y="1186.77" width="113.4" height="31.13" fill="#eaeaff"/><rect x="1260.2" y="1186.77" width="113.4" height="31.13" fill="#ff6e6e"/><rect x="1373" y="1186.77" width="113.4" height="31.13" fill="#0000ff"/></g>
<line x1="1203.8" y1="759.9" x2="1203.8" y2="1217.3" stroke="#22ecf2" stroke-width="1.9" stroke-dasharray="4.2 2.6"/>
<path d="M1223.04 759.3V789.83H1223.04V820.37H1223.71V850.9H1214.2V881.43H1214.2V911.97H1222.6V942.5H1216.85V973.03H1214.42V1003.57H1192.52V1034.1H1191.19V1064.63H1184.56V1095.17H1185V1125.7H1186.33V1156.23H1175.71V1186.77H1199.16V1217.3" stroke="#22ecf2" stroke-width="1.8" fill="none"/>
<line x1="1316.6" y1="759.9" x2="1316.6" y2="1217.3" stroke="#22ecf2" stroke-width="1.9" stroke-dasharray="4.2 2.6"/>
<path d="M1330.76 759.3V789.83H1323.9V820.37H1318.15V850.9H1306.65V881.43H1307.97V911.97H1301.34V942.5H1301.34V973.03H1301.34V1003.57H1301.34V1034.1H1301.34V1064.63H1301.34V1095.17H1335.84V1125.7H1339.38V1156.23H1332.97V1186.77H1348.67V1217.3" stroke="#22ecf2" stroke-width="1.8" fill="none"/>
<line x1="1429.4" y1="759.9" x2="1429.4" y2="1217.3" stroke="#22ecf2" stroke-width="1.9" stroke-dasharray="4.2 2.6"/>
<path d="M1437.14 759.3V789.83H1438.69V820.37H1436.7V850.9H1431.61V881.43H1427.85V911.97H1434.04V942.5H1424.31V973.03H1424.76V1003.57H1440.46V1034.1H1440.46V1064.63H1440.46V1095.17H1440.46V1125.7H1427.85V1156.23H1427.85V1186.77H1373.8V1217.3" stroke="#22ecf2" stroke-width="1.8" fill="none"/>
<rect x="1147.4" y="759.3" width="338.4" height="458" fill="none" stroke="#5a5a5a" stroke-width="1.3"/>
<path d="M1143.9 774.57H1136.6V805.1H1143.9" stroke="#231f20" stroke-width="1.5" fill="none"/>
<path d="M1136.6 789.83H1133.8V835.63H1143.9" stroke="#231f20" stroke-width="1.5" fill="none"/>
<path d="M1143.9 866.17H1136.2V896.7H1143.9" stroke="#231f20" stroke-width="1.5" fill="none"/>
<path d="M1136.2 881.43H1131V927.23H1143.9" stroke="#231f20" stroke-width="1.5" fill="none"/>
<path d="M1143.9 957.77H1140.4V988.3H1143.9" stroke="#231f20" stroke-width="1.5" fill="none"/>
<path d="M1131 904.33H1125.6V973.03H1140.4" stroke="#231f20" stroke-width="1.5" fill="none"/>
<path d="M1133.8 812.73H1112.1V938.68H1125.6" stroke="#231f20" stroke-width="1.5" fill="none"/>
<path d="M1143.9 1018.83H1141.8V1049.37H1143.9" stroke="#231f20" stroke-width="1.5" fill="none"/>
<path d="M1141.8 1034.1H1135.4V1079.9H1143.9" stroke="#231f20" stroke-width="1.5" fill="none"/>
<path d="M1135.4 1057H1120.5V1110.43H1143.9" stroke="#231f20" stroke-width="1.5" fill="none"/>
<path d="M1143.9 1140.97H1131.1V1171.5H1143.9" stroke="#231f20" stroke-width="1.5" fill="none"/>
<path d="M1120.5 1083.72H1108.2V1156.23H1131.1" stroke="#231f20" stroke-width="1.5" fill="none"/>
<path d="M1112.1 875.71H1094.9V1119.97H1108.2" stroke="#231f20" stroke-width="1.5" fill="none"/>
<path d="M1094.9 997.84H1007.3V1202.03H1143.9" stroke="#231f20" stroke-width="1.5" fill="none"/>
<text x="1504" y="785.7" font-size="27.3" font-style="italic">sod1</text>
<text x="1504" y="816.13" font-size="27.3" font-style="italic">ifi27l2b</text>
<text x="1504" y="846.56" font-size="27.3" font-style="italic">rpl37</text>
<text x="1504" y="876.99" font-size="27.3" font-style="italic">loc101808646</text>
<text x="1504" y="907.42" font-size="27.3" font-style="italic">trim9</text>
<text x="1504" y="937.85" font-size="27.3" font-style="italic">rpl12</text>
<text x="1504" y="968.28" font-size="27.3" font-style="italic">stxbp1</text>
<text x="1504" y="998.71" font-size="27.3" font-style="italic">elmod1</text>
<text x="1504" y="1029.14" font-size="27.3" font-style="italic">tnfrsf21</text>
<text x="1504" y="1059.57" font-size="27.3" font-style="italic">mapre3</text>
<text x="1504" y="1090" font-size="27.3" font-style="italic">pde2a</text>
<text x="1504" y="1120.43" font-size="27.3" font-style="italic">atp6v1b2</text>
<text x="1504" y="1150.86" font-size="27.3" font-style="italic">hsp90aa1</text>
<text x="1504" y="1181.29" font-size="27.3" font-style="italic">kcnab2</text>
<text x="1504" y="1211.72" font-size="27.3" font-style="italic">eno1</text>
<text x="1172.82" y="1253.3" font-size="25.7" textLength="164.82" lengthAdjust="spacingAndGlyphs">photosensitive</text>
<text x="1359.74" y="1253.3" font-size="25.7" textLength="172.11" lengthAdjust="spacingAndGlyphs">photorefractory</text>
<rect x="958.4" y="756.7" width="60.3" height="105.3" fill="url(#grad_d)"/>
<line x1="972.5" y1="844.8" x2="972.5" y2="862" stroke="#22ecf2" stroke-width="1"/>
<rect x="976.9" y="844.8" width="7" height="17.2" fill="#22ecf2"/>
<line x1="980.2" y1="759.6" x2="980.2" y2="862" stroke="#22ecf2" stroke-width="1"/>
<line x1="985.25" y1="844.8" x2="985.25" y2="862" stroke="#22ecf2" stroke-width="1"/>
<rect x="986.8" y="844.8" width="11.2" height="17.2" fill="#22ecf2"/>
<line x1="987.75" y1="810.8" x2="987.75" y2="862" stroke="#22ecf2" stroke-width="1"/>
<line x1="999.1" y1="844.8" x2="999.1" y2="862" stroke="#22ecf2" stroke-width="1"/>
<line x1="1005.25" y1="844.8" x2="1005.25" y2="862" stroke="#22ecf2" stroke-width="1"/>
<line x1="988.2" y1="756.7" x2="988.2" y2="862" stroke="#22ecf2" stroke-width="1.3" stroke-dasharray="3 2.5"/>
<line x1="958.4" y1="862" x2="1018.7" y2="862" stroke="#22ecf2" stroke-width="1.2"/>
<line x1="953.4" y1="759.6" x2="958.4" y2="759.6" stroke="#231f20" stroke-width="1.1"/>
<line x1="954.4" y1="777" x2="958.4" y2="777" stroke="#231f20" stroke-width="1.1"/>
<line x1="954.4" y1="793.7" x2="958.4" y2="793.7" stroke="#231f20" stroke-width="1.1"/>
<line x1="953.4" y1="810.8" x2="958.4" y2="810.8" stroke="#231f20" stroke-width="1.1"/>
<line x1="954.4" y1="828.2" x2="958.4" y2="828.2" stroke="#231f20" stroke-width="1.1"/>
<line x1="954.4" y1="844.8" x2="958.4" y2="844.8" stroke="#231f20" stroke-width="1.1"/>
<line x1="953.4" y1="862" x2="958.4" y2="862" stroke="#231f20" stroke-width="1.1"/>
<line x1="958.4" y1="759.6" x2="958.4" y2="862" stroke="#231f20" stroke-width="0.8"/>
<text x="0" y="0" font-size="17" transform="translate(949 767.45) scale(1.1 1)" text-anchor="end">6</text>
<text x="0" y="0" font-size="17" transform="translate(949 817.45) scale(1.1 1)" text-anchor="end">3</text>
<text x="0" y="0" font-size="17" transform="translate(949 867.45) scale(1.1 1)" text-anchor="end">0</text>
<line x1="961.2" y1="862" x2="961.2" y2="866" stroke="#231f20" stroke-width="1.1"/>
<line x1="970.6" y1="862" x2="970.6" y2="865" stroke="#231f20" stroke-width="1.1"/>
<line x1="979.2" y1="862" x2="979.2" y2="865" stroke="#231f20" stroke-width="1.1"/>
<line x1="988" y1="862" x2="988" y2="866" stroke="#231f20" stroke-width="1.1"/>
<line x1="996.6" y1="862" x2="996.6" y2="865" stroke="#231f20" stroke-width="1.1"/>
<line x1="1005.1" y1="862" x2="1005.1" y2="865" stroke="#231f20" stroke-width="1.1"/>
<line x1="1014.5" y1="862" x2="1014.5" y2="866" stroke="#231f20" stroke-width="1.1"/>
<text x="0" y="0" font-size="17" transform="translate(957.4 879.6) scale(1.1 1)" text-anchor="middle">-3</text>
<text x="0" y="0" font-size="17" transform="translate(988.5 879.6) scale(1.1 1)" text-anchor="middle">0</text>
<text x="0" y="0" font-size="17" transform="translate(1014.2 879.6) scale(1.1 1)" text-anchor="middle">3</text>
<text x="926.1" y="818.1" font-size="17" text-anchor="middle" textLength="51.2" lengthAdjust="spacingAndGlyphs" transform="rotate(-90 926.1 818.1)">counts</text>
<text x="921" y="894.4" font-size="17" textLength="121.7" lengthAdjust="spacingAndGlyphs">column z-score</text>
<text x="912.91" y="1356.6" font-size="38.6" textLength="306.98" lengthAdjust="spacingAndGlyphs">Pathway enriched</text>
<line x1="1121" y1="1408" x2="1121" y2="1731.5" stroke="#231f20" stroke-width="3"/>
<line x1="1114" y1="1730.9" x2="1121" y2="1730.9" stroke="#231f20" stroke-width="2.6"/>
<text x="1111.6" y="1742.9" font-size="34" text-anchor="end" textLength="16.5" lengthAdjust="spacingAndGlyphs">0</text>
<line x1="1114" y1="1623.3" x2="1121" y2="1623.3" stroke="#231f20" stroke-width="2.6"/>
<text x="1111.6" y="1635.3" font-size="34" text-anchor="end" textLength="16.5" lengthAdjust="spacingAndGlyphs">1</text>
<line x1="1114" y1="1515.7" x2="1121" y2="1515.7" stroke="#231f20" stroke-width="2.6"/>
<text x="1111.6" y="1527.7" font-size="34" text-anchor="end" textLength="16.5" lengthAdjust="spacingAndGlyphs">2</text>
<line x1="1114" y1="1408.1" x2="1121" y2="1408.1" stroke="#231f20" stroke-width="2.6"/>
<text x="1111.6" y="1420.1" font-size="34" text-anchor="end" textLength="16.5" lengthAdjust="spacingAndGlyphs">3</text>
<rect x="1222.1" y="1551.21" width="200.7" height="179.69" fill="#d3d3d3" stroke="#231f20" stroke-width="2.8"/>
<line x1="1114" y1="1730.9" x2="1524.6" y2="1730.9" stroke="#231f20" stroke-width="3"/>
<line x1="1322.1" y1="1730.9" x2="1322.1" y2="1739.6" stroke="#231f20" stroke-width="2.6"/>
<text x="1057.4" y="1645.05" font-size="31.5" textLength="181.13" lengthAdjust="spacingAndGlyphs" transform="rotate(-90 1057.4 1645.05)">-log10(padj.)</text>
<text x="1332.5" y="1907.32" font-size="35" textLength="158.68" lengthAdjust="spacingAndGlyphs" transform="rotate(-90 1332.5 1907.32)">Ribosome</text>
<text x="919.3" y="1968.2" font-size="38.6" textLength="269.52" lengthAdjust="spacingAndGlyphs">Protein network</text>
<line x1="1140.21" y1="2099.67" x2="1376.01" y2="2065.87" stroke="#bcd83a" stroke-width="2.8"/>
<line x1="1141.2" y1="2106.6" x2="1377" y2="2072.8" stroke="#d444d4" stroke-width="2.8"/>
<line x1="1142.19" y1="2113.53" x2="1377.99" y2="2079.73" stroke="#484848" stroke-width="2.8"/>
<circle cx="1139.7" cy="2114.1" r="49.47" fill="#1a1a1a" opacity="0.72" filter="url(#blur2)"/>
<circle cx="1141.2" cy="2106.6" r="51" fill="url(#sg_rpl12)"/>
<circle cx="1141.2" cy="2106.6" r="51" fill="url(#sr_rpl12)"/>
<circle cx="1141.2" cy="2106.6" r="50.4" fill="none" stroke="#6a6626" stroke-width="1.2" opacity="0.6"/>
<path d="M1146 2088L1145.73 2088.33L1147.59 2088.62L1145.1 2090.09L1141.84 2090.82L1142.64 2093.32L1139.18 2092.04L1137.41 2095.2L1139.54 2092.56L1141.09 2097.64L1139.01 2097.92L1135.07 2095.31L1136.68 2095.21L1135.98 2096.62L1135.58 2098.71L1138.46 2101.89L1140.48 2102.13L1141.68 2102.75L1142.52 2101.21L1146.5 2105.2L1147.52 2105.2L1145.25 2103.1L1143.71 2102.56L1145.21 2105.24L1145.4 2106.96L1145.37 2111.05L1139.29 2109.7L1141.86 2111.74L1142.31 2112.94L1136.65 2115.6L1138.2 2115.37L1134.51 2116.54L1138.74 2119.98L1135.69 2118.86L1135.11 2118.19L1139.26 2119.35L1139.6 2121.92L1138.06 2124.99L1137.69 2126.13L1137.92 2125.93L1138.96 2125.74L1144.01 2129.37L1142.36 2131.63L1141.9 2130.27L1145.94 2131.96L1143.5 2135.12L1143.96 2132.68L1147.8 2133.05L1146.85 2132.44L1145.98 2135.82L1147.14 2137.65L1148.25 2138.08L1151.58 2139.08L1150.15 2142.24L1147.24 2139.9L1150.15 2143.63L1147.05 2141.94L1148.58 2146.34L1145.71 2148.43L1148.41 2147.82L1146.35 2145.55L1143.95 2148.37L1144.91 2145.78L1145.87 2143.69L1148.63 2138.11L1147.66 2136.84L1147.35 2131.72L1150.56 2131.69L1152.4 2126.49L1155.22 2122.52L1151.59 2119.71L1152.6 2116.21L1150.97 2115.47L1152.27 2112.5L1151.06 2114.45L1153.74 2112.3L1152.49 2109.83L1148.61 2104.6L1146.33 2106.51L1149.05 2105.96L1145.63 2102.55" fill="none" stroke="#4aa88a" stroke-width="0.8" stroke-linejoin="round" opacity="0.8"/><ellipse cx="1131" cy="2090" rx="3.5" ry="2.2" fill="#2aa890" transform="rotate(30 1131 2090)" opacity="0.85"/><ellipse cx="1143" cy="2096" rx="3" ry="3" fill="#2aa890" transform="rotate(0 1143 2096)" opacity="0.85"/><ellipse cx="1128" cy="2115" rx="3" ry="3" fill="#2aa890" transform="rotate(0 1128 2115)" opacity="0.85"/><ellipse cx="1145" cy="2086" rx="2.5" ry="2.5" fill="#2aa890" transform="rotate(0 1145 2086)" opacity="0.85"/>
<ellipse cx="1141.2" cy="2080.08" rx="29.07" ry="15.3" fill="url(#sh_common)"/>
<circle cx="1375.5" cy="2080.3" r="49.47" fill="#1a1a1a" opacity="0.72" filter="url(#blur2)"/>
<circle cx="1377" cy="2072.8" r="51" fill="url(#sg_rpl37)"/>
<circle cx="1377" cy="2072.8" r="51" fill="url(#sr_rpl37)"/>
<circle cx="1377" cy="2072.8" r="50.4" fill="none" stroke="#8a2a2a" stroke-width="1.2" opacity="0.6"/>
<ellipse cx="1377" cy="2046.28" rx="29.07" ry="15.3" fill="url(#sh_common)"/>
<text x="1188.02" y="2059.7" font-size="29.5" fill="#2a2a2a" textLength="94.71" lengthAdjust="spacingAndGlyphs">RPL12</text>
<text x="1423.32" y="2025.8" font-size="29.5" fill="#2a2a2a" textLength="94.71" lengthAdjust="spacingAndGlyphs">RPL37</text>
<text x="1238.1" y="2130.4" font-size="22" textLength="56.16" lengthAdjust="spacingAndGlyphs">0.986</text>
<text x="12.25" y="1098" font-size="45.5">c</text>
<text x="62.72" y="1097.8" font-size="45.5" textLength="153.87" lengthAdjust="spacingAndGlyphs">hour 18</text>
<g shape-rendering="crispEdges"><rect x="304.4" y="1138.8" width="85.85" height="30.48" fill="#eaeaff"/><rect x="389.65" y="1138.8" width="85.85" height="30.48" fill="#c4c4ff"/><rect x="474.9" y="1138.8" width="85.85" height="30.48" fill="#ffc4c4"/><rect x="560.15" y="1138.8" width="85.85" height="30.48" fill="#ffc4c4"/><rect x="304.4" y="1168.68" width="85.85" height="30.48" fill="#d9d9ff"/><rect x="389.65" y="1168.68" width="85.85" height="30.48" fill="#d4d4ff"/><rect x="474.9" y="1168.68" width="85.85" height="30.48" fill="#ffcaca"/><rect x="560.15" y="1168.68" width="85.85" height="30.48" fill="#ffdcdc"/><rect x="304.4" y="1198.56" width="85.85" height="30.48" fill="#dcdcff"/><rect x="389.65" y="1198.56" width="85.85" height="30.48" fill="#d0d0ff"/><rect x="474.9" y="1198.56" width="85.85" height="30.48" fill="#fffafa"/><rect x="560.15" y="1198.56" width="85.85" height="30.48" fill="#ffbbbb"/><rect x="304.4" y="1228.45" width="85.85" height="30.48" fill="#e4e4ff"/><rect x="389.65" y="1228.45" width="85.85" height="30.48" fill="#b5b5ff"/><rect x="474.9" y="1228.45" width="85.85" height="30.48" fill="#ffe6e6"/><rect x="560.15" y="1228.45" width="85.85" height="30.48" fill="#fff2f2"/><rect x="304.4" y="1258.33" width="85.85" height="30.48" fill="#e6e6ff"/><rect x="389.65" y="1258.33" width="85.85" height="30.48" fill="#9494ff"/><rect x="474.9" y="1258.33" width="85.85" height="30.48" fill="#fff6f6"/><rect x="560.15" y="1258.33" width="85.85" height="30.48" fill="#ffd5d5"/><rect x="304.4" y="1288.21" width="85.85" height="30.48" fill="#c4c4ff"/><rect x="389.65" y="1288.21" width="85.85" height="30.48" fill="#a2a2ff"/><rect x="474.9" y="1288.21" width="85.85" height="30.48" fill="#f8f8ff"/><rect x="560.15" y="1288.21" width="85.85" height="30.48" fill="#ffdcdc"/><rect x="304.4" y="1318.09" width="85.85" height="30.48" fill="#b8b8ff"/><rect x="389.65" y="1318.09" width="85.85" height="30.48" fill="#b2b2ff"/><rect x="474.9" y="1318.09" width="85.85" height="30.48" fill="#fcfcff"/><rect x="560.15" y="1318.09" width="85.85" height="30.48" fill="#fefeff"/><rect x="304.4" y="1347.97" width="85.85" height="30.48" fill="#b0b0ff"/><rect x="389.65" y="1347.97" width="85.85" height="30.48" fill="#8585ff"/><rect x="474.9" y="1347.97" width="85.85" height="30.48" fill="#fff6f6"/><rect x="560.15" y="1347.97" width="85.85" height="30.48" fill="#fafaff"/><rect x="304.4" y="1377.85" width="85.85" height="30.48" fill="#9e9eff"/><rect x="389.65" y="1377.85" width="85.85" height="30.48" fill="#a0a0ff"/><rect x="474.9" y="1377.85" width="85.85" height="30.48" fill="#fefeff"/><rect x="560.15" y="1377.85" width="85.85" height="30.48" fill="#fefeff"/><rect x="304.4" y="1407.74" width="85.85" height="30.48" fill="#9494ff"/><rect x="389.65" y="1407.74" width="85.85" height="30.48" fill="#c4c4ff"/><rect x="474.9" y="1407.74" width="85.85" height="30.48" fill="#eaeaff"/><rect x="560.15" y="1407.74" width="85.85" height="30.48" fill="#ffeeee"/><rect x="304.4" y="1437.62" width="85.85" height="30.48" fill="#babaff"/><rect x="389.65" y="1437.62" width="85.85" height="30.48" fill="#6666ff"/><rect x="474.9" y="1437.62" width="85.85" height="30.48" fill="#fff0f0"/><rect x="560.15" y="1437.62" width="85.85" height="30.48" fill="#ffdcdc"/><rect x="304.4" y="1467.5" width="85.85" height="30.48" fill="#8484ff"/><rect x="389.65" y="1467.5" width="85.85" height="30.48" fill="#f6f6ff"/><rect x="474.9" y="1467.5" width="85.85" height="30.48" fill="#ffd2d2"/><rect x="560.15" y="1467.5" width="85.85" height="30.48" fill="#ffd2d2"/><rect x="304.4" y="1497.38" width="85.85" height="30.48" fill="#a2a2ff"/><rect x="389.65" y="1497.38" width="85.85" height="30.48" fill="#dcdcff"/><rect x="474.9" y="1497.38" width="85.85" height="30.48" fill="#ffd8d8"/><rect x="560.15" y="1497.38" width="85.85" height="30.48" fill="#e4e4ff"/><rect x="304.4" y="1527.26" width="85.85" height="30.48" fill="#fff2f2"/><rect x="389.65" y="1527.26" width="85.85" height="30.48" fill="#ffe8e8"/><rect x="474.9" y="1527.26" width="85.85" height="30.48" fill="#ffbbbb"/><rect x="560.15" y="1527.26" width="85.85" height="30.48" fill="#ffc2c2"/><rect x="304.4" y="1557.15" width="85.85" height="30.48" fill="#fefeff"/><rect x="389.65" y="1557.15" width="85.85" height="30.48" fill="#fefeff"/><rect x="474.9" y="1557.15" width="85.85" height="30.48" fill="#ffc2c2"/><rect x="560.15" y="1557.15" width="85.85" height="30.48" fill="#ffcccc"/><rect x="304.4" y="1587.03" width="85.85" height="30.48" fill="#e6e6ff"/><rect x="389.65" y="1587.03" width="85.85" height="30.48" fill="#e6e6ff"/><rect x="474.9" y="1587.03" width="85.85" height="30.48" fill="#ff9898"/><rect x="560.15" y="1587.03" width="85.85" height="30.48" fill="#ffbbbb"/><rect x="304.4" y="1616.91" width="85.85" height="30.48" fill="#ffe0e0"/><rect x="389.65" y="1616.91" width="85.85" height="30.48" fill="#6666ff"/><rect x="474.9" y="1616.91" width="85.85" height="30.48" fill="#e6e6ff"/><rect x="560.15" y="1616.91" width="85.85" height="30.48" fill="#ffaaaa"/><rect x="304.4" y="1646.79" width="85.85" height="30.48" fill="#6060ff"/><rect x="389.65" y="1646.79" width="85.85" height="30.48" fill="#9494ff"/><rect x="474.9" y="1646.79" width="85.85" height="30.48" fill="#ffe8e8"/><rect x="560.15" y="1646.79" width="85.85" height="30.48" fill="#5c5cff"/><rect x="304.4" y="1676.67" width="85.85" height="30.48" fill="#6464ff"/><rect x="389.65" y="1676.67" width="85.85" height="30.48" fill="#8282ff"/><rect x="474.9" y="1676.67" width="85.85" height="30.48" fill="#fcfcff"/><rect x="560.15" y="1676.67" width="85.85" height="30.48" fill="#5e5eff"/><rect x="304.4" y="1706.55" width="85.85" height="30.48" fill="#ff6c6c"/><rect x="389.65" y="1706.55" width="85.85" height="30.48" fill="#ff9898"/><rect x="474.9" y="1706.55" width="85.85" height="30.48" fill="#6666ff"/><rect x="560.15" y="1706.55" width="85.85" height="30.48" fill="#3030ff"/><rect x="304.4" y="1736.44" width="85.85" height="30.48" fill="#ffb0b0"/><rect x="389.65" y="1736.44" width="85.85" height="30.48" fill="#ffb4b4"/><rect x="474.9" y="1736.44" width="85.85" height="30.48" fill="#8080ff"/><rect x="560.15" y="1736.44" width="85.85" height="30.48" fill="#5e5eff"/><rect x="304.4" y="1766.32" width="85.85" height="30.48" fill="#ffc8c8"/><rect x="389.65" y="1766.32" width="85.85" height="30.48" fill="#ffd0d0"/><rect x="474.9" y="1766.32" width="85.85" height="30.48" fill="#1818ff"/><rect x="560.15" y="1766.32" width="85.85" height="30.48" fill="#5e5eff"/><rect x="304.4" y="1796.2" width="85.85" height="30.48" fill="#ff7070"/><rect x="389.65" y="1796.2" width="85.85" height="30.48" fill="#ff9090"/><rect x="474.9" y="1796.2" width="85.85" height="30.48" fill="#4444ff"/><rect x="560.15" y="1796.2" width="85.85" height="30.48" fill="#b8b8ff"/><rect x="304.4" y="1826.08" width="85.85" height="30.48" fill="#ff8c8c"/><rect x="389.65" y="1826.08" width="85.85" height="30.48" fill="#d0d0ff"/><rect x="474.9" y="1826.08" width="85.85" height="30.48" fill="#5454ff"/><rect x="560.15" y="1826.08" width="85.85" height="30.48" fill="#c0c0ff"/><rect x="304.4" y="1855.96" width="85.85" height="30.48" fill="#5858ff"/><rect x="389.65" y="1855.96" width="85.85" height="30.48" fill="#ff6c6c"/><rect x="474.9" y="1855.96" width="85.85" height="30.48" fill="#dcdcff"/><rect x="560.15" y="1855.96" width="85.85" height="30.48" fill="#6060ff"/><rect x="304.4" y="1885.85" width="85.85" height="30.48" fill="#8888ff"/><rect x="389.65" y="1885.85" width="85.85" height="30.48" fill="#ff0000"/><rect x="474.9" y="1885.85" width="85.85" height="30.48" fill="#1010ff"/><rect x="560.15" y="1885.85" width="85.85" height="30.48" fill="#6060ff"/><rect x="304.4" y="1915.73" width="85.85" height="30.48" fill="#ff8080"/><rect x="389.65" y="1915.73" width="85.85" height="30.48" fill="#ff9898"/><rect x="474.9" y="1915.73" width="85.85" height="30.48" fill="#ff5c5c"/><rect x="560.15" y="1915.73" width="85.85" height="30.48" fill="#ff7878"/><rect x="304.4" y="1945.61" width="85.85" height="30.48" fill="#ff8080"/><rect x="389.65" y="1945.61" width="85.85" height="30.48" fill="#ff8c8c"/><rect x="474.9" y="1945.61" width="85.85" height="30.48" fill="#ff7070"/><rect x="560.15" y="1945.61" width="85.85" height="30.48" fill="#ff7070"/><rect x="304.4" y="1975.49" width="85.85" height="30.48" fill="#ff8c8c"/><rect x="389.65" y="1975.49" width="85.85" height="30.48" fill="#ff9090"/><rect x="474.9" y="1975.49" width="85.85" height="30.48" fill="#ff7070"/><rect x="560.15" y="1975.49" width="85.85" height="30.48" fill="#ff8484"/><rect x="304.4" y="2005.37" width="85.85" height="30.48" fill="#ffaaaa"/><rect x="389.65" y="2005.37" width="85.85" height="30.48" fill="#ffdcdc"/><rect x="474.9" y="2005.37" width="85.85" height="30.48" fill="#ff8c8c"/><rect x="560.15" y="2005.37" width="85.85" height="30.48" fill="#ff9898"/><rect x="304.4" y="2035.25" width="85.85" height="30.48" fill="#ffaaaa"/><rect x="389.65" y="2035.25" width="85.85" height="30.48" fill="#ffd4d4"/><rect x="474.9" y="2035.25" width="85.85" height="30.48" fill="#ff8c8c"/><rect x="560.15" y="2035.25" width="85.85" height="30.48" fill="#ff9c9c"/><rect x="304.4" y="2065.14" width="85.85" height="30.48" fill="#ff5858"/><rect x="389.65" y="2065.14" width="85.85" height="30.48" fill="#ff6c6c"/><rect x="474.9" y="2065.14" width="85.85" height="30.48" fill="#ffa4a4"/><rect x="560.15" y="2065.14" width="85.85" height="30.48" fill="#ff4040"/><rect x="304.4" y="2095.02" width="85.85" height="30.48" fill="#ff3c3c"/><rect x="389.65" y="2095.02" width="85.85" height="30.48" fill="#ff6c6c"/><rect x="474.9" y="2095.02" width="85.85" height="30.48" fill="#dcdcff"/><rect x="560.15" y="2095.02" width="85.85" height="30.48" fill="#eaeaff"/></g>
<line x1="347.02" y1="1139.4" x2="347.02" y2="2124.9" stroke="#22ecf2" stroke-width="1.7" stroke-dasharray="9 5.5"/>
<path d="M343.51 1138.8V1168.68H340.67V1198.56H341.17V1228.45H342.51V1258.33H342.85V1288.21H337.16V1318.09H335.16V1347.97H333.82V1377.85H330.81V1407.74H329.14V1437.62H335.49V1467.5H326.46V1497.38H331.48V1527.26H349.2V1557.15H346.86V1587.03H342.85V1616.91H352.21V1646.79H320.45V1676.67H321.12V1706.55H371.6V1736.44H360.23V1766.32H356.22V1796.2H370.93V1826.08H366.25V1855.96H319.11V1885.85H327.13V1915.73H368.25V1945.61H368.25V1975.49H366.25V2005.37H361.23V2035.25H361.23V2065.14H374.94V2095.02H379.62V2124.9" stroke="#22ecf2" stroke-width="1.5" fill="none"/>
<line x1="432.27" y1="1139.4" x2="432.27" y2="2124.9" stroke="#22ecf2" stroke-width="1.7" stroke-dasharray="9 5.5"/>
<path d="M422.41 1138.8V1168.68H425.09V1198.56H424.42V1228.45H419.91V1258.33H414.39V1288.21H416.73V1318.09H419.4V1347.97H411.88V1377.85H416.4V1407.74H422.41V1437.62H406.7V1467.5H430.77V1497.38H426.42V1527.26H436.12V1557.15H432.11V1587.03H428.1V1616.91H406.7V1646.79H414.39V1676.67H411.38V1706.55H449.49V1736.44H444.81V1766.32H440.13V1796.2H450.83V1826.08H424.42V1855.96H456.85V1885.85H474.1V1915.73H449.49V1945.61H451.5V1975.49H450.83V2005.37H438.13V2035.25H439.46V2065.14H456.85V2095.02H456.85V2124.9" stroke="#22ecf2" stroke-width="1.5" fill="none"/>
<line x1="517.52" y1="1139.4" x2="517.52" y2="2124.9" stroke="#22ecf2" stroke-width="1.7" stroke-dasharray="9 5.5"/>
<path d="M527.39 1138.8V1168.68H526.38V1198.56H518.36V1228.45H521.7V1258.33H519.03V1288.21H516.35V1318.09H517.02V1347.97H519.03V1377.85H517.36V1407.74H514.01V1437.62H520.03V1467.5H525.05V1497.38H524.04V1527.26H528.89V1557.15H527.72V1587.03H534.74V1616.91H513.35V1646.79H521.37V1676.67H517.02V1706.55H491.95V1736.44H496.3V1766.32H478.91V1796.2H486.27V1826.08H488.94V1855.96H511.67V1885.85H477.57V1915.73H544.77V1945.61H541.43V1975.49H541.43V2005.37H536.75V2035.25H536.75V2065.14H532.74V2095.02H511.67V2124.9" stroke="#22ecf2" stroke-width="1.5" fill="none"/>
<line x1="602.77" y1="1139.4" x2="602.77" y2="2124.9" stroke="#22ecf2" stroke-width="1.7" stroke-dasharray="9 5.5"/>
<path d="M612.64 1138.8V1168.68H608.63V1198.56H614.14V1228.45H604.95V1258.33H609.8V1288.21H608.63V1318.09H602.61V1347.97H601.94V1377.85H602.61V1407.74H605.62V1437.62H608.63V1467.5H610.3V1497.38H598.26V1527.26H612.97V1557.15H611.3V1587.03H614.14V1616.91H616.98V1646.79H575.53V1676.67H575.86V1706.55H568.17V1736.44H575.86V1766.32H575.86V1796.2H590.91V1826.08H592.24V1855.96H576.2V1885.85H576.2V1915.73H625.34V1945.61H626.68V1975.49H623.34V2005.37H619.99V2035.25H619.32V2065.14H634.7V2095.02H599.26V2124.9" stroke="#22ecf2" stroke-width="1.5" fill="none"/>
<rect x="304.4" y="1138.8" width="341" height="986.1" fill="none" stroke="#5a5a5a" stroke-width="1.3"/>
<path d="M300 1153.74H289.6V1183.62H300" stroke="#231f20" stroke-width="1.5" fill="none"/>
<path d="M289.6 1168.68H285.9V1213.5H300" stroke="#231f20" stroke-width="1.5" fill="none"/>
<path d="M300 1243.39H288.3V1273.27H300" stroke="#231f20" stroke-width="1.5" fill="none"/>
<path d="M285.9 1191.09H281.7V1258.33H288.3" stroke="#231f20" stroke-width="1.5" fill="none"/>
<path d="M300 1303.15H290.2V1333.03H300" stroke="#231f20" stroke-width="1.5" fill="none"/>
<path d="M300 1362.91H291.3V1392.8H300" stroke="#231f20" stroke-width="1.5" fill="none"/>
<path d="M290.2 1318.09H285.9V1377.85H291.3" stroke="#231f20" stroke-width="1.5" fill="none"/>
<path d="M285.9 1347.97H281.5V1422.68H300" stroke="#231f20" stroke-width="1.5" fill="none"/>
<path d="M281.5 1385.33H275V1452.56H300" stroke="#231f20" stroke-width="1.5" fill="none"/>
<path d="M281.7 1224.71H269.4V1418.94H275" stroke="#231f20" stroke-width="1.5" fill="none"/>
<path d="M300 1482.44H277.5V1512.32H300" stroke="#231f20" stroke-width="1.5" fill="none"/>
<path d="M269.4 1321.83H263.8V1497.38H277.5" stroke="#231f20" stroke-width="1.5" fill="none"/>
<path d="M300 1542.2H291V1572.09H300" stroke="#231f20" stroke-width="1.5" fill="none"/>
<path d="M291 1557.15H283V1601.97H300" stroke="#231f20" stroke-width="1.5" fill="none"/>
<path d="M283 1579.56H255.7V1631.85H300" stroke="#231f20" stroke-width="1.5" fill="none"/>
<path d="M263.8 1409.6H248.9V1605.7H255.7" stroke="#231f20" stroke-width="1.5" fill="none"/>
<path d="M300 1661.73H290.9V1691.61H300" stroke="#231f20" stroke-width="1.5" fill="none"/>
<path d="M248.9 1507.65H217.8V1676.67H290.9" stroke="#231f20" stroke-width="1.5" fill="none"/>
<path d="M300 1721.5H277.8V1751.38H300" stroke="#231f20" stroke-width="1.5" fill="none"/>
<path d="M277.8 1736.44H266.6V1781.26H300" stroke="#231f20" stroke-width="1.5" fill="none"/>
<path d="M300 1811.14H264V1841.02H300" stroke="#231f20" stroke-width="1.5" fill="none"/>
<path d="M266.6 1758.85H247.6V1826.08H264" stroke="#231f20" stroke-width="1.5" fill="none"/>
<path d="M300 1870.9H246V1900.79H300" stroke="#231f20" stroke-width="1.5" fill="none"/>
<path d="M247.6 1792.46H207.9V1885.85H246" stroke="#231f20" stroke-width="1.5" fill="none"/>
<path d="M217.8 1592.16H174V1839.16H207.9" stroke="#231f20" stroke-width="1.5" fill="none"/>
<path d="M300 1930.67H294V1960.55H300" stroke="#231f20" stroke-width="1.5" fill="none"/>
<path d="M294 1945.61H290.9V1990.43H300" stroke="#231f20" stroke-width="1.5" fill="none"/>
<path d="M300 2020.31H296.6V2050.2H300" stroke="#231f20" stroke-width="1.5" fill="none"/>
<path d="M290.9 1968.02H276.3V2035.25H296.6" stroke="#231f20" stroke-width="1.5" fill="none"/>
<path d="M276.3 2001.64H258.5V2080.08H300" stroke="#231f20" stroke-width="1.5" fill="none"/>
<path d="M258.5 2040.86H235.3V2109.96H300" stroke="#231f20" stroke-width="1.5" fill="none"/>
<path d="M174 1715.66H161.7V2075.41H235.3" stroke="#231f20" stroke-width="1.5" fill="none"/>
<text x="660.6" y="1152.8" font-size="27.3" font-style="italic">dctn1</text>
<text x="660.6" y="1183.25" font-size="27.3" font-style="italic">wbp1</text>
<text x="660.6" y="1213.7" font-size="27.3" font-style="italic">tomm6</text>
<text x="660.6" y="1244.15" font-size="27.3" font-style="italic">tk2</text>
<text x="660.6" y="1274.6" font-size="27.3" font-style="italic">loc101811864</text>
<text x="660.6" y="1305.05" font-size="27.3" font-style="italic">cart</text>
<text x="660.6" y="1335.5" font-size="27.3" font-style="italic">timm10b</text>
<text x="660.6" y="1365.95" font-size="27.3" font-style="italic">prdx1</text>
<text x="660.6" y="1396.4" font-size="27.3" font-style="italic">npas2</text>
<text x="660.6" y="1426.85" font-size="27.3" font-style="italic">grp</text>
<text x="660.6" y="1457.3" font-size="27.3" font-style="italic">haus4</text>
<text x="660.6" y="1487.75" font-size="27.3" font-style="italic">agbl5</text>
<text x="660.6" y="1518.2" font-size="27.3" font-style="italic">klc1</text>
<text x="660.6" y="1548.65" font-size="27.3" font-style="italic">pold4</text>
<text x="660.6" y="1579.1" font-size="27.3" font-style="italic">spag7</text>
<text x="660.6" y="1609.55" font-size="27.3" font-style="italic">coa6</text>
<text x="660.6" y="1640" font-size="27.3" font-style="italic">loc101817208</text>
<text x="660.6" y="1670.45" font-size="27.3" font-style="italic">synpr</text>
<text x="660.6" y="1700.9" font-size="27.3" font-style="italic">uqcrc1</text>
<text x="660.6" y="1731.35" font-size="27.3" font-style="italic">eef1a1</text>
<text x="660.6" y="1761.8" font-size="27.3" font-style="italic">atp6v1c1</text>
<text x="660.6" y="1792.25" font-size="27.3" font-style="italic">cct8</text>
<text x="660.6" y="1822.7" font-size="27.3" font-style="italic">scd5</text>
<text x="660.6" y="1853.15" font-size="27.3" font-style="italic">oas1</text>
<text x="660.6" y="1883.6" font-size="27.3" font-style="italic">pank4</text>
<text x="660.6" y="1914.05" font-size="27.3" font-style="italic">ttr</text>
<text x="660.6" y="1944.5" font-size="27.3" font-style="italic">cox14</text>
<text x="660.6" y="1974.95" font-size="27.3" font-style="italic">tubb3</text>
<text x="660.6" y="2005.4" font-size="27.3" font-style="italic">sncg</text>
<text x="660.6" y="2035.85" font-size="27.3" font-style="italic">atp5mc1</text>
<text x="660.6" y="2066.3" font-size="27.3" font-style="italic">atp5md</text>
<text x="660.6" y="2096.75" font-size="27.3" font-style="italic">apoa1</text>
<text x="660.6" y="2127.2" font-size="27.3" font-style="italic">ifi27l2b</text>
<text x="299.63" y="2153.7" font-size="25.7" textLength="164.72" lengthAdjust="spacingAndGlyphs">photosensitive</text>
<text x="474.94" y="2153.7" font-size="25.7" textLength="172.11" lengthAdjust="spacingAndGlyphs">photorefractory</text>
<rect x="53.1" y="1136.3" width="59.7" height="104.8" fill="url(#grad_c)"/>
<line x1="54.5" y1="1215.7" x2="54.5" y2="1241.1" stroke="#22ecf2" stroke-width="1"/>
<line x1="58.3" y1="1215.7" x2="58.3" y2="1241.1" stroke="#22ecf2" stroke-width="1"/>
<line x1="60.2" y1="1215.7" x2="60.2" y2="1241.1" stroke="#22ecf2" stroke-width="1"/>
<line x1="61.6" y1="1215.7" x2="61.6" y2="1241.1" stroke="#22ecf2" stroke-width="1"/>
<line x1="63.2" y1="1139.6" x2="63.2" y2="1241.1" stroke="#22ecf2" stroke-width="1"/>
<line x1="63.9" y1="1165.4" x2="63.9" y2="1241.1" stroke="#22ecf2" stroke-width="1"/>
<rect x="66.7" y="1215.7" width="32.9" height="25.4" fill="#22ecf2"/>
<line x1="69.5" y1="1190.3" x2="69.5" y2="1241.1" stroke="#22ecf2" stroke-width="1"/>
<line x1="77" y1="1190.3" x2="77" y2="1241.1" stroke="#22ecf2" stroke-width="1"/>
<line x1="79.9" y1="1190.3" x2="79.9" y2="1241.1" stroke="#22ecf2" stroke-width="1"/>
<line x1="82.7" y1="1190.3" x2="82.7" y2="1241.1" stroke="#22ecf2" stroke-width="1"/>
<line x1="86.5" y1="1190.3" x2="86.5" y2="1241.1" stroke="#22ecf2" stroke-width="1"/>
<line x1="94.9" y1="1190.3" x2="94.9" y2="1241.1" stroke="#22ecf2" stroke-width="1.4"/>
<line x1="98.7" y1="1190.3" x2="98.7" y2="1241.1" stroke="#22ecf2" stroke-width="1"/>
<line x1="101.5" y1="1215.7" x2="101.5" y2="1241.1" stroke="#22ecf2" stroke-width="1"/>
<line x1="104.8" y1="1215.7" x2="104.8" y2="1241.1" stroke="#22ecf2" stroke-width="1"/>
<line x1="112.3" y1="1215.7" x2="112.3" y2="1241.1" stroke="#22ecf2" stroke-width="1"/>
<line x1="82.6" y1="1136.3" x2="82.6" y2="1241.1" stroke="#22ecf2" stroke-width="1.3" stroke-dasharray="3 2.5"/>
<line x1="53.1" y1="1241.1" x2="112.8" y2="1241.1" stroke="#22ecf2" stroke-width="1.2"/>
<line x1="48.1" y1="1139.6" x2="53.1" y2="1139.6" stroke="#231f20" stroke-width="1.1"/>
<line x1="49.1" y1="1165.4" x2="53.1" y2="1165.4" stroke="#231f20" stroke-width="1.1"/>
<line x1="48.1" y1="1190.3" x2="53.1" y2="1190.3" stroke="#231f20" stroke-width="1.1"/>
<line x1="49.1" y1="1215.7" x2="53.1" y2="1215.7" stroke="#231f20" stroke-width="1.1"/>
<line x1="48.1" y1="1241.1" x2="53.1" y2="1241.1" stroke="#231f20" stroke-width="1.1"/>
<line x1="53.1" y1="1139.6" x2="53.1" y2="1241.1" stroke="#231f20" stroke-width="0.8"/>
<text x="0" y="0" font-size="17" transform="translate(44.6 1147.45) scale(1.1 1)" text-anchor="end">4</text>
<text x="0" y="0" font-size="17" transform="translate(44.6 1197.45) scale(1.1 1)" text-anchor="end">2</text>
<text x="0" y="0" font-size="17" transform="translate(44.6 1247.25) scale(1.1 1)" text-anchor="end">0</text>
<line x1="58.3" y1="1241.1" x2="58.3" y2="1245.1" stroke="#231f20" stroke-width="1.1"/>
<line x1="70.5" y1="1241.1" x2="70.5" y2="1244.1" stroke="#231f20" stroke-width="1.1"/>
<line x1="82.5" y1="1241.1" x2="82.5" y2="1245.1" stroke="#231f20" stroke-width="1.1"/>
<line x1="94.9" y1="1241.1" x2="94.9" y2="1244.1" stroke="#231f20" stroke-width="1.1"/>
<line x1="106" y1="1241.1" x2="106" y2="1245.1" stroke="#231f20" stroke-width="1.1"/>
<text x="0" y="0" font-size="17" transform="translate(55.6 1259.6) scale(1.1 1)" text-anchor="middle">-2</text>
<text x="0" y="0" font-size="17" transform="translate(83.3 1259.6) scale(1.1 1)" text-anchor="middle">0</text>
<text x="0" y="0" font-size="17" transform="translate(106.2 1259.6) scale(1.1 1)" text-anchor="middle">2</text>
<text x="30.1" y="1190.55" font-size="17" text-anchor="middle" textLength="52.1" lengthAdjust="spacingAndGlyphs" transform="rotate(-90 30.1 1190.55)">counts</text>
<text x="18.8" y="1276.3" font-size="17" textLength="121.7" lengthAdjust="spacingAndGlyphs">column z-score</text>
<text x="11.8" y="2295" font-size="38.6" textLength="318.77" lengthAdjust="spacingAndGlyphs">Pathway enriched:</text>
<text x="128.48" y="2337.7" font-size="38.6" textLength="86.25" lengthAdjust="spacingAndGlyphs">none</text>
<text x="402.33" y="2237.3" font-size="38.6" textLength="267" lengthAdjust="spacingAndGlyphs">Protein network</text>
<line x1="438.01" y1="2347.97" x2="719.51" y2="2305.47" stroke="#bcd83a" stroke-width="2.7"/>
<line x1="439" y1="2354.5" x2="720.5" y2="2312" stroke="#d444d4" stroke-width="2.7"/>
<line x1="439.99" y1="2361.03" x2="721.49" y2="2318.53" stroke="#484848" stroke-width="2.7"/>
<circle cx="437.5" cy="2362" r="47.53" fill="#1a1a1a" opacity="0.72" filter="url(#blur2)"/>
<circle cx="439" cy="2354.5" r="49" fill="url(#sg_coa6)"/>
<circle cx="439" cy="2354.5" r="49" fill="url(#sr_coa6)"/>
<circle cx="439" cy="2354.5" r="48.4" fill="none" stroke="#1f6e68" stroke-width="1.2" opacity="0.6"/>
<ellipse cx="439" cy="2329.02" rx="27.93" ry="14.7" fill="url(#sh_common)"/>
<circle cx="719" cy="2319.5" r="47.53" fill="#1a1a1a" opacity="0.72" filter="url(#blur2)"/>
<circle cx="720.5" cy="2312" r="49" fill="url(#sg_uqcrc1)"/>
<circle cx="720.5" cy="2312" r="49" fill="url(#sr_uqcrc1)"/>
<circle cx="720.5" cy="2312" r="48.4" fill="none" stroke="#6e8c4e" stroke-width="1.2" opacity="0.6"/>
<ellipse cx="720.5" cy="2286.52" rx="27.93" ry="14.7" fill="url(#sh_common)"/>
<text x="483.39" y="2309.7" font-size="28.5" fill="#2a2a2a" textLength="82.16" lengthAdjust="spacingAndGlyphs">COA6</text>
<text x="764.87" y="2267.3" font-size="28.5" fill="#2a2a2a" textLength="125.7" lengthAdjust="spacingAndGlyphs">UQCRC1</text>
<text x="567.11" y="2370" font-size="22" textLength="55.41" lengthAdjust="spacingAndGlyphs">0.804</text>
<line x1="39.8" y1="125.4" x2="42.6" y2="125.4" stroke="#555" stroke-width="1"/>
<line x1="931.6" y1="672" x2="932.2" y2="674.5" stroke="#555" stroke-width="1"/>
<line x1="931.8" y1="712" x2="930.8" y2="714.8" stroke="#555" stroke-width="1"/>
<line x1="98.7" y1="157.2" x2="101.5" y2="157.2" stroke="#333" stroke-width="1.2"/>
<line x1="988.8" y1="192.6" x2="991.6" y2="192.6" stroke="#333" stroke-width="1.2"/>
<line x1="93.5" y1="1136.6" x2="96.3" y2="1136.6" stroke="#333" stroke-width="1.2"/>
</svg>
</body></html>
